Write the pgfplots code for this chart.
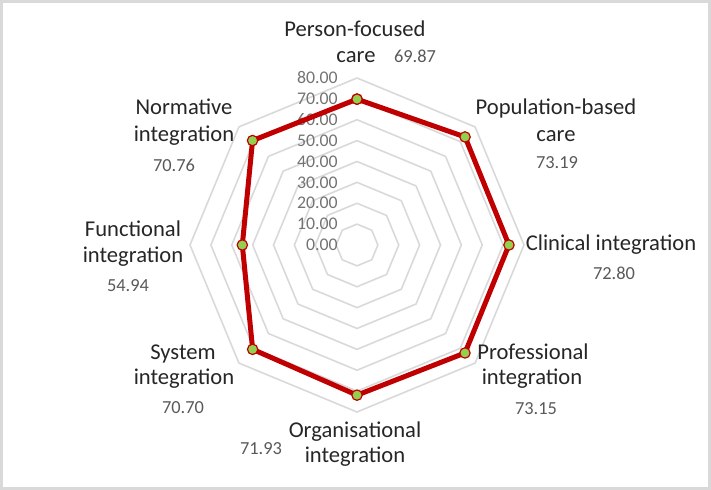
\documentclass[border=0pt]{standalone}
\usepackage{pgfplots}
\pgfplotsset{compat=1.18}
\usepackage{fontspec}
\setmainfont{Carlito}
\definecolor{gridc}{HTML}{D9D9D9}
\definecolor{serred}{HTML}{C00000}
\definecolor{mkgreen}{HTML}{92D050}
\definecolor{cattext}{HTML}{262626}
\definecolor{valtext}{HTML}{595959}
\definecolor{ticktext}{HTML}{737373}
\definecolor{framec}{HTML}{D9D9D9}
\newcommand{\lab}[4]{\node[anchor=base,inner sep=0pt,#3] at ([xshift={(#1-357)*0.5pt}, yshift={(245-#2)*0.5pt}]axis cs:0,0) {#4};}
\tikzset{cat/.style={font=\fontsize{11.3}{13}\selectfont,text=cattext},
         val/.style={font=\fontsize{9.2}{11}\selectfont,text=valtext},
         tck/.style={font=\fontsize{8.9}{10}\selectfont,text=ticktext,anchor=east,inner sep=0pt}}
\begin{document}
\begin{tikzpicture}
\begin{axis}[
  x=1.04375pt, y=1.04375pt,
  xmin=-171.018, xmax=169.581, ymin=-117.365, ymax=117.365,
  hide axis, clip=false,
]
% frame
\draw[framec, line width=1.5pt] ([shift={(0.75pt,0.75pt)}]rel axis cs:0,0) rectangle ([shift={(-0.75pt,-0.75pt)}]rel axis cs:1,1);
% octagonal grid
\addplot[gridc, line width=0.8pt, data cs=polar, no markers] coordinates {(90,10)(45,10)(0,10)(-45,10)(-90,10)(-135,10)(180,10)(135,10)(90,10)};
\addplot[gridc, line width=0.8pt, data cs=polar, no markers] coordinates {(90,20)(45,20)(0,20)(-45,20)(-90,20)(-135,20)(180,20)(135,20)(90,20)};
\addplot[gridc, line width=0.8pt, data cs=polar, no markers] coordinates {(90,30)(45,30)(0,30)(-45,30)(-90,30)(-135,30)(180,30)(135,30)(90,30)};
\addplot[gridc, line width=0.8pt, data cs=polar, no markers] coordinates {(90,40)(45,40)(0,40)(-45,40)(-90,40)(-135,40)(180,40)(135,40)(90,40)};
\addplot[gridc, line width=0.8pt, data cs=polar, no markers] coordinates {(90,50)(45,50)(0,50)(-45,50)(-90,50)(-135,50)(180,50)(135,50)(90,50)};
\addplot[gridc, line width=0.8pt, data cs=polar, no markers] coordinates {(90,60)(45,60)(0,60)(-45,60)(-90,60)(-135,60)(180,60)(135,60)(90,60)};
\addplot[gridc, line width=0.8pt, data cs=polar, no markers] coordinates {(90,70)(45,70)(0,70)(-45,70)(-90,70)(-135,70)(180,70)(135,70)(90,70)};
\addplot[gridc, line width=0.8pt, data cs=polar, no markers] coordinates {(90,80)(45,80)(0,80)(-45,80)(-90,80)(-135,80)(180,80)(135,80)(90,80)};
% tick labels
\node[tck] at ([xshift=-9.5pt]axis cs:0,0) {0.00};
\node[tck] at ([xshift=-9.5pt]axis cs:0,10) {10.00};
\node[tck] at ([xshift=-9.5pt]axis cs:0,20) {20.00};
\node[tck] at ([xshift=-9.5pt]axis cs:0,30) {30.00};
\node[tck] at ([xshift=-9.5pt]axis cs:0,40) {40.00};
\node[tck] at ([xshift=-9.5pt]axis cs:0,50) {50.00};
\node[tck] at ([xshift=-9.5pt]axis cs:0,60) {60.00};
\node[tck] at ([xshift=-9.5pt]axis cs:0,70) {70.00};
\node[tck] at ([xshift=-9.5pt]axis cs:0,80) {80.00};
% series
\addplot[serred, line width=2.5pt, line join=round, data cs=polar,
  mark=*, mark size=2.6pt, mark options={fill=mkgreen, draw=serred, line width=0.6pt}]
  coordinates {(90,69.87)(45,73.19)(0,72.80)(-45,73.15)(-90,71.93)(-135,70.70)(180,54.94)(135,70.76)(90,69.87)};
% category labels
\lab{355}{37}{cat}{Person-focused}
\lab{356}{63}{cat}{care}
\lab{415}{63}{val}{69.87}
\lab{556}{115}{cat}{Population-based}
\lab{556}{142}{cat}{care}
\lab{557}{169}{val}{73.19}
\lab{611}{251}{cat}{Clinical integration}
\lab{614}{280}{val}{72.80}
\lab{533}{360}{cat}{Professional}
\lab{532}{385}{cat}{integration}
\lab{536}{415}{val}{73.15}
\lab{355}{438}{cat}{Organisational}
\lab{355}{463}{cat}{integration}
\lab{261}{455}{val}{71.93}
\lab{183}{360}{cat}{System}
\lab{184}{385}{cat}{integration}
\lab{183}{414}{val}{70.70}
\lab{133}{237}{cat}{Functional}
\lab{133}{263}{cat}{integration}
\lab{128}{292}{val}{54.94}
\lab{184}{115}{cat}{Normative}
\lab{184}{142}{cat}{integration}
\lab{174}{172}{val}{70.76}
\end{axis}
\end{tikzpicture}
\end{document}
